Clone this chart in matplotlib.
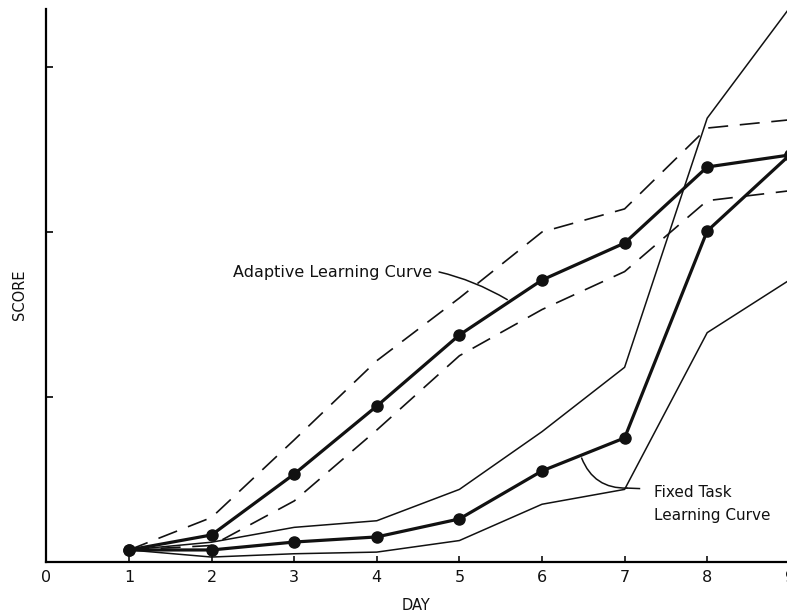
"""
Learning curves: adaptive vs fixed-task training, mean score by day
with the spread band drawn around each curve.
"""
import matplotlib
matplotlib.use("Agg")
import matplotlib.pyplot as plt

days = [1, 2, 3, 4, 5, 6, 7, 8, 9]

# adaptive training (mean, upper and lower bounds)
adaptive_mean = [0.073, 0.164, 0.533, 0.945, 1.376, 1.709, 1.933, 2.394, 2.467]
adaptive_upper = [0.073, 0.27, 0.74, 1.22, 1.60, 2.00, 2.14, 2.63, 2.68]
adaptive_lower = [0.073, 0.10, 0.37, 0.80, 1.25, 1.53, 1.76, 2.19, 2.25]

# fixed task training (mean, upper and lower bounds)
fixed_mean = [0.073, 0.073, 0.121, 0.152, 0.261, 0.552, 0.752, 2.006, 2.467]
fixed_upper = [0.073, 0.12, 0.21, 0.25, 0.44, 0.79, 1.18, 2.69, 3.36]
fixed_lower = [0.073, 0.03, 0.05, 0.06, 0.13, 0.35, 0.44, 1.39, 1.71]

x_ticks = list(range(0, 10))
y_ticks = [1, 2, 3]

W, H = 787, 613
fig = plt.figure(figsize=(W / 100, H / 100), dpi=100)
ymax = 3.37
ax = fig.add_axes([46.4 / W, 51 / H, 743.4 / W, ymax * 165 / H])
ax.set_xlim(0, 9)
ax.set_ylim(0, ymax)

ink = "#111111"
bold = dict(color=ink, lw=2.3, marker="o", ms=8, solid_capstyle="round")
thin = dict(color=ink, lw=1.1)
dash = dict(color=ink, lw=1.2, dashes=(12, 7))

ax.plot(days, adaptive_upper, **dash)
ax.plot(days, adaptive_lower, **dash)
ax.plot(days, adaptive_mean, **bold)

ax.plot(days, fixed_upper, clip_on=False, **thin)
ax.plot(days, fixed_lower, **thin)
ax.plot(days, fixed_mean, **bold)

# axes styling
for side in ("top", "right"):
    ax.spines[side].set_visible(False)
ax.spines["left"].set_bounds(0, 3.35)
ax.spines["left"].set_linewidth(1.6)
ax.spines["bottom"].set_linewidth(1.6)
ax.set_xticks(x_ticks)
ax.set_xticklabels([str(t) for t in x_ticks])
ax.set_yticks(y_ticks)
ax.set_yticklabels([])
ax.tick_params(axis="x", direction="in", length=4, width=1.2, pad=6,
               labelsize=11.5, colors=ink)
ax.tick_params(axis="y", direction="in", length=5, width=1.2)

ax.set_xlabel("DAY", fontsize=10.5, color=ink)
ax.set_ylabel("SCORE", fontsize=10.5, color=ink)
ax.xaxis.set_label_coords(0.497, -0.064)
ax.yaxis.set_label_coords(-0.026, 0.48)

# curve labels with curved leaders
ax.annotate("Adaptive Learning Curve", xy=(5.58, 1.59), xytext=(2.26, 1.752),
            fontsize=11.5, color=ink, va="center", ha="left",
            arrowprops=dict(arrowstyle="-", color=ink, lw=1.1,
                            connectionstyle="arc3,rad=-0.2",
                            shrinkA=3, shrinkB=0))
ax.annotate("", xy=(6.48, 0.63), xytext=(7.03, 0.448),
            arrowprops=dict(arrowstyle="-", color=ink, lw=1.1,
                            connectionstyle="arc3,rad=-0.35",
                            shrinkA=0, shrinkB=0))
ax.plot([7.03, 7.18], [0.448, 0.445], color=ink, lw=1.1)
ax.text(7.35, 0.35, "Fixed Task\nLearning Curve", fontsize=11, color=ink,
        va="center", ha="left", linespacing=1.7)

fig.savefig("out.png", dpi=100)
